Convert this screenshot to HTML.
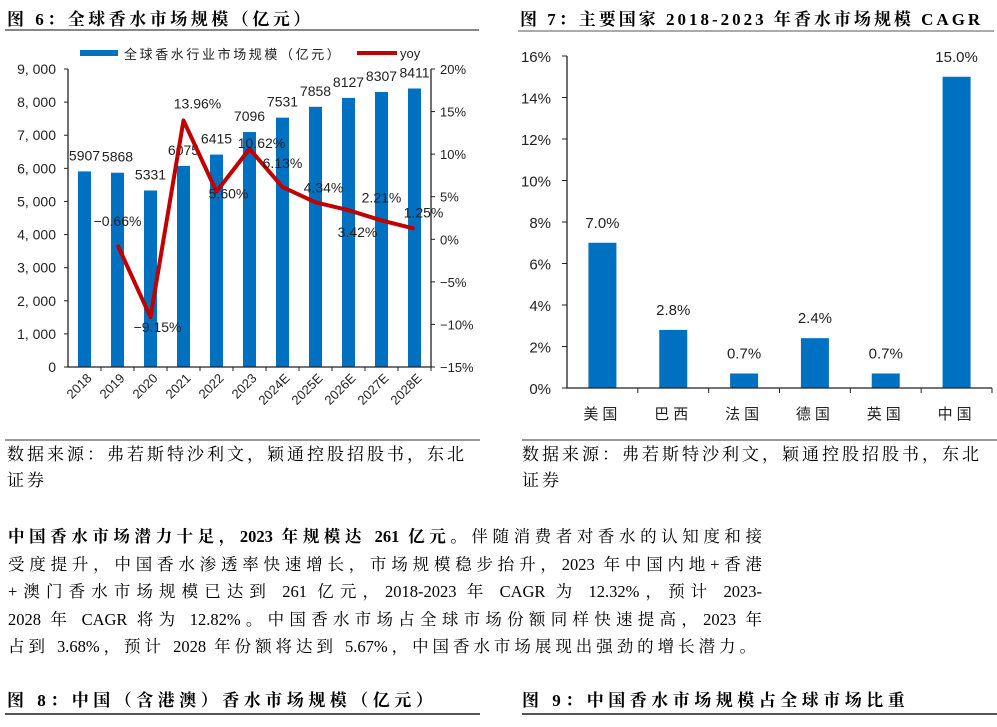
<!DOCTYPE html>
<html><head><meta charset="utf-8"><style>
body{margin:0;width:997px;height:727px;background:#fff;position:relative;overflow:hidden;font-family:"Liberation Serif","Noto Serif CJK SC",serif;}
.t{position:absolute;font-weight:bold;font-size:17px;color:#000;white-space:nowrap;letter-spacing:3.5px;}
.src{position:absolute;font-size:17px;line-height:26px;color:#000;letter-spacing:3px;white-space:nowrap;}
.pl{position:absolute;left:8px;width:754px;font-size:16.5px;height:27px;line-height:27px;text-align:justify;text-align-last:justify;white-space:nowrap;}
.hr{position:absolute;height:2px;background:#999;}
</style></head><body>
<div class="t" style="left:7px;top:5px">图 6：全球香水市场规模（亿元）</div>
<div class="hr" style="left:5px;top:29px;width:474px;background:#888"></div>
<div class="t" style="left:520px;top:5px;letter-spacing:3px">图 7：主要国家 2018-2023 年香水市场规模 CAGR</div>
<div class="hr" style="left:518px;top:30px;width:476px;background:#aaa"></div>

<svg id="c1" width="997" height="440" style="position:absolute;left:0;top:0"></svg>

<div class="hr" style="left:5px;top:439px;width:475px"></div>
<div class="hr" style="left:522px;top:439px;width:475px"></div>
<div class="src" style="left:7px;top:442px">数据来源：弗若斯特沙利文，颖通控股招股书，东北<br>证券</div>
<div class="src" style="left:522px;top:442px">数据来源：弗若斯特沙利文，颖通控股招股书，东北<br>证券</div>

<div>
<div class="pl" style="top:523px"><b>中国香水市场潜力十足，2023 年规模达 261 亿元。</b>伴随消费者对香水的认知度和接</div>
<div class="pl" style="top:551px">受度提升，中国香水渗透率快速增长，市场规模稳步抬升，2023 年中国内地+香港</div>
<div class="pl" style="top:578px">+澳门香水市场规模已达到 261 亿元，2018-2023 年 CAGR 为 12.32%，预计 2023-</div>
<div class="pl" style="top:606px">2028 年 CAGR 将为 12.82%。中国香水市场占全球市场份额同样快速提高，2023 年</div>
<div class="pl" style="top:633px;width:748px">占到 3.68%，预计 2028 年份额将达到 5.67%，中国香水市场展现出强劲的增长潜力。</div>
</div>

<div class="t" style="left:7px;top:686px;letter-spacing:4.5px">图 8：中国（含港澳）香水市场规模（亿元）</div>
<div class="t" style="left:522px;top:686px;letter-spacing:4.5px">图 9：中国香水市场规模占全球市场比重</div>
<div class="hr" style="left:5px;top:713px;width:475px;background:#555"></div>
<div class="hr" style="left:522px;top:713px;width:475px;background:#555"></div>

<script>
const years=["2018","2019","2020","2021","2022","2023","2024E","2025E","2026E","2027E","2028E"];
const sizes=[5907,5868,5331,6075,6415,7096,7531,7858,8127,8307,8411];
const yoy=[null,-0.66,-9.15,13.96,5.60,10.62,6.13,4.34,3.42,2.21,1.25];
const yoyLabels=["","-0.66%","-9.15%","13.96%","5.60%","10.62%","6.13%","4.34%","3.42%","2.21%","1.25%"];
const leftTicks=[0,1000,2000,3000,4000,5000,6000,7000,8000,9000];
const rightTicks=[-15,-10,-5,0,5,10,15,20];
const countries=["美国","巴西","法国","德国","英国","中国"];
const cagr=[7.0,2.8,0.7,2.4,0.7,15.0];
const cagrTicks=[0,2,4,6,8,10,12,14,16];

const NS="http://www.w3.org/2000/svg";
const svg=document.getElementById('c1');
function mk(tag,at,txt){const e=document.createElementNS(NS,tag);for(const k in at)e.setAttribute(k,at[k]);if(txt!=null)e.textContent=txt;svg.appendChild(e);return e;}
const SF='"Liberation Sans","Noto Sans CJK SC",sans-serif';

const X0=68,X1=431,Y0=367,Y1=69;
const bw=(X1-X0)/years.length;
const yL=v=>Y0-(v/9000)*(Y0-Y1);
const yR=v=>Y0-((v+15)/35)*(Y0-Y1);
const xc=i=>X0+bw*(i+0.5);

let e=mk('rect',{x:80,y:50,width:38,height:6,fill:'#0070C0'});

e=mk('text',{x:124,y:59,'font-size':13,'font-family':SF,fill:'#222','letter-spacing':'2.6'},'全球香水行业市场规模（亿元）');

e=mk('line',{x1:357,y1:53,x2:397,y2:53,stroke:'#C00000','stroke-width':4});

e=mk('text',{x:400,y:58,'font-size':13,'font-family':SF,fill:'#222'},'yoy');


sizes.forEach((v,i)=>{
  const b=mk('rect',{x:xc(i)-6.5,y:yL(v),width:13,height:Y0-yL(v),fill:'#0070C0'});
  
  
  const t=mk('text',{x:xc(i),y:yL(v)-11,'text-anchor':'middle','font-size':14,'font-family':SF,fill:'#222'},String(v));
  
  
});
e=mk('path',{d:`M${X0} ${Y1}V${Y0}H${X1}V${Y1}`,fill:'none',stroke:'#222','stroke-width':1.3});

leftTicks.forEach(v=>{
  mk('line',{x1:X0-4,x2:X0,y1:yL(v),y2:yL(v),stroke:'#222'});
  const t=mk('text',{x:56,y:yL(v)+5,'text-anchor':'end','font-size':14,'font-family':SF,fill:'#222'},v===0?'0':v.toLocaleString('en-US').replace(',',', '));
  
  
});
rightTicks.forEach(v=>{
  mk('line',{x1:X1,x2:X1+4,y1:yR(v),y2:yR(v),stroke:'#222'});
  const t=mk('text',{x:440,y:yR(v)+5,'font-size':13,'font-family':SF,fill:'#222'},(v<0?'−':'')+Math.abs(v)+'%');
  
  
});
years.forEach((y,i)=>{
  mk('line',{x1:X0+bw*(i+1),x2:X0+bw*(i+1),y1:Y0,y2:Y0+4,stroke:'#222'});
  const t=mk('text',{x:xc(i)+8,y:Y0+12,'text-anchor':'end','font-size':13,'font-family':SF,fill:'#222',transform:`rotate(-45 ${xc(i)+8} ${Y0+12})`},y);
  
  
});
let d='';yoy.forEach((v,i)=>{if(v==null)return;d+=(d?'L':'M')+xc(i)+' '+yR(v);});
e=mk('path',{d:d,fill:'none',stroke:'#C00000','stroke-width':4,'stroke-linejoin':'round'});

const lblOff=[[0,0],[0,-19],[7,15],[14,-12],[12,7],[12,-1],[0,-19],[8,-10],[9,27],[0,-18],[9,-11]];
yoy.forEach((v,i)=>{if(v==null)return;
  const t=mk('text',{x:xc(i)+lblOff[i][0],y:yR(v)+lblOff[i][1],'text-anchor':'middle','font-size':14,'font-family':SF,fill:'#222'},yoyLabels[i].replace('-','−'));
  
  
});

const A0=567,A1=992,B0=388,B1=56;
const cw=(A1-A0)/countries.length;
const y2=v=>B0-(v/16)*(B0-B1);
const x2=i=>A0+cw*(i+0.5);
cagr.forEach((v,i)=>{
  const b=mk('rect',{x:x2(i)-14,y:y2(v),width:28,height:B0-y2(v),fill:'#0070C0'});
  
  
  const t=mk('text',{x:x2(i),y:y2(v)-15,'text-anchor':'middle','font-size':15,'font-family':SF,fill:'#222'},v.toFixed(1)+'%');
  
  
  const c=mk('text',{x:x2(i),y:419,'text-anchor':'middle','font-size':15,'font-family':SF,fill:'#222','letter-spacing':'4'},countries[i]);
  
  
});
e=mk('path',{d:`M${A0} ${B1}V${B0}H${A1}`,fill:'none',stroke:'#222','stroke-width':1.3});

cagrTicks.forEach(v=>{
  mk('line',{x1:A0-5,x2:A0,y1:y2(v),y2:y2(v),stroke:'#222'});
  const t=mk('text',{x:551,y:y2(v)+6,'text-anchor':'end','font-size':15,'font-family':SF,fill:'#222'},v+'%');
  
  
});
countries.forEach((c,i)=>mk('line',{x1:A0+cw*(i+1),x2:A0+cw*(i+1),y1:B0,y2:B0+5,stroke:'#222'}));
</script>
</body></html>
